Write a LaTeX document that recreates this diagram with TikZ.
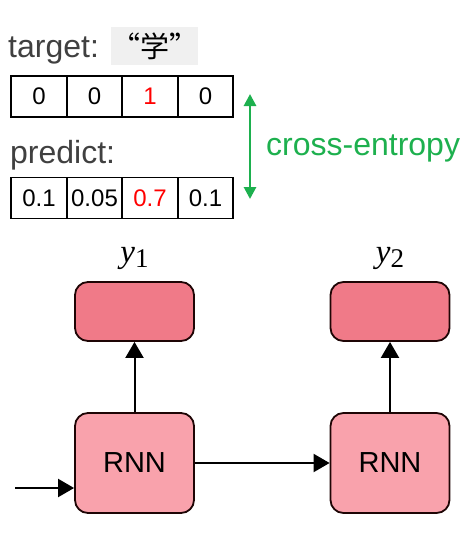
\documentclass[tikz,border=0pt]{standalone}
\usepackage{fontspec}
\setmainfont{Liberation Sans}
\newfontfamily\cjk{Noto Sans CJK SC}
\newfontfamily\timesf{Liberation Serif}
\usetikzlibrary{arrows.meta}
\definecolor{txtgray}{HTML}{404040}
\definecolor{cegreen}{HTML}{1DB04E}
\definecolor{outpink}{HTML}{F07A88}
\definecolor{rnnpink}{HTML}{F9A2AC}
\definecolor{bordark}{HTML}{1E0505}
\definecolor{cjkbg}{HTML}{F0F0F0}
\tikzset{
  cell/.style={draw=black, line width=1.8pt, minimum width=55.5pt, minimum height=41pt, inner sep=0pt, font=\fontsize{24}{24}\selectfont},
  lbl/.style={text=txtgray, inner sep=0pt, anchor=base west, font=\fontsize{32}{32}\selectfont},
  outbox/.style={draw=bordark, fill=outpink, line width=1.8pt, rounded corners=13pt, minimum width=119pt, minimum height=59pt, inner sep=0pt},
  rnnbox/.style={draw=bordark, fill=rnnpink, line width=1.8pt, rounded corners=13pt, minimum width=119pt, minimum height=100pt, inner sep=0pt, font=\fontsize{29}{29}\selectfont},
  conn/.style={line width=2pt, -{Triangle[length=16pt, width=18pt]}},
  ylab/.style={inner sep=0pt, font=\timesf\fontsize{33}{33}\selectfont}
}
\begin{document}
\begin{tikzpicture}[x=1pt, y=-1pt]
\useasboundingbox (0,0) rectangle (474,552);
% labels
\node[lbl] (tlab) at (8,57) {target:};
\node[fill=cjkbg, minimum width=63pt, minimum height=38pt, inner sep=0pt, font=\cjk\fontsize{29}{29}\selectfont] (cjkword) at (154.5,46) {“学”};
\node[lbl] (plab) at (10,163) {predict:};
% target row
\node[cell] (t1) at (39,96.5) {0};
\node[cell] (t2) at (94.5,96.5) {0};
\node[cell, text=red] (t3) at (150,96.5) {1};
\node[cell] (t4) at (205.5,96.5) {0};
% predict row
\node[cell] (p1) at (39,198) {0.1};
\node[cell] (p2) at (94.5,198) {0.05};
\node[cell, text=red] (p3) at (150,198) {0.7};
\node[cell] (p4) at (205.5,198) {0.1};
% cross-entropy
\coordinate (ceTop) at (250,94);
\coordinate (ceBot) at (250,199);
\draw[cegreen, line width=2.8pt, {Triangle[length=12pt, width=12pt]}-{Triangle[length=12pt, width=12pt]}] (ceTop) -- (ceBot);
\node[text=cegreen, inner sep=0pt, anchor=west, font=\fontsize{32}{32}\selectfont] (ce) at (266,148) {cross-entropy};
% RNN part
\node[ylab] (y1) at (134.5,258) {\itshape y\raisebox{-5pt}{\upshape\fontsize{27}{27}\selectfont 1}};
\node[ylab] (y2) at (390,258) {\itshape y\raisebox{-5pt}{\upshape\fontsize{27}{27}\selectfont 2}};
\node[outbox] (o1) at (134.5,311.5) {};
\node[outbox] (o2) at (390,311.5) {};
\node[rnnbox] (r1) at (134.5,463) {RNN};
\node[rnnbox] (r2) at (390,463) {RNN};
\draw[conn] (r1.north) -- (o1.south);
\draw[conn] (r2.north) -- (o2.south);
\draw[conn] (r1.east) -- (r2.west);
\coordinate (inStart) at (15,488);
\draw[conn] (inStart) -- (r1.west |- inStart);
\end{tikzpicture}
\end{document}
